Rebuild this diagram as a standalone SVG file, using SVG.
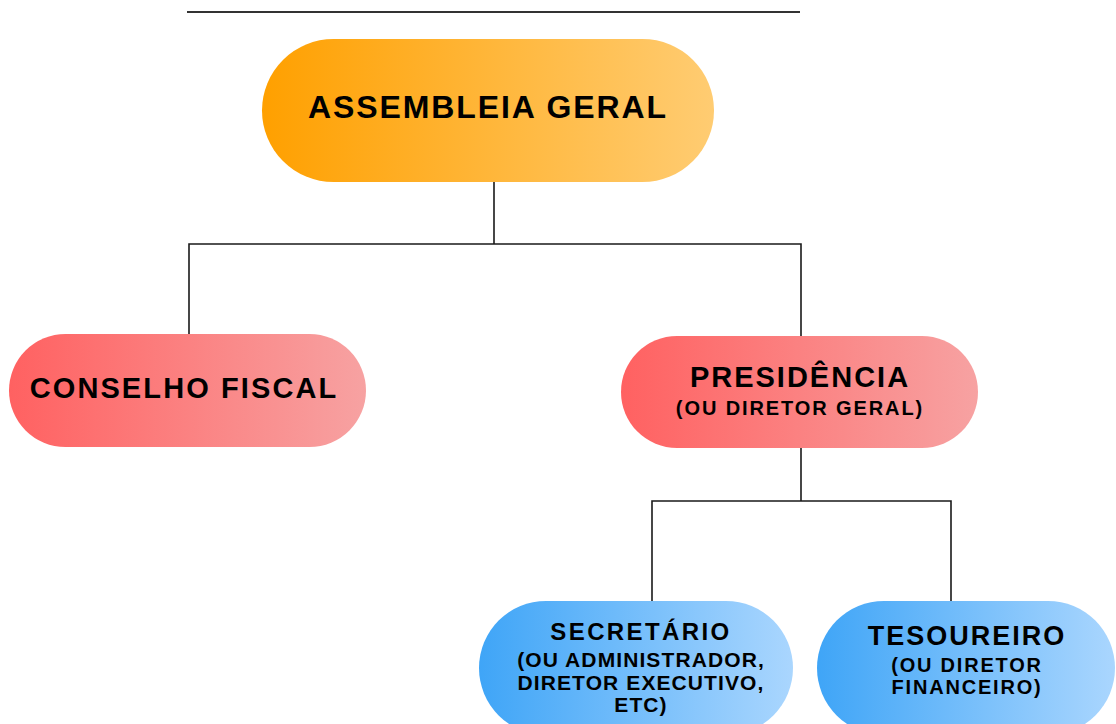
<svg xmlns="http://www.w3.org/2000/svg" width="1116" height="724" viewBox="0 0 1116 724">
<defs>
<linearGradient id="gOrange" x1="0" y1="0" x2="1" y2="0"><stop offset="0" stop-color="#FFA000"/><stop offset="1" stop-color="#FFCC72"/></linearGradient>
<linearGradient id="gRed" x1="0" y1="0" x2="1" y2="0"><stop offset="0" stop-color="#FF6161"/><stop offset="1" stop-color="#F7A2A2"/></linearGradient>
<linearGradient id="gBlue" x1="0" y1="0" x2="1" y2="0"><stop offset="0" stop-color="#3FA5F7"/><stop offset="1" stop-color="#AAD6FE"/></linearGradient>
<style>
text{font-family:"Liberation Sans",Arial,sans-serif;font-weight:bold;fill:#000;text-anchor:middle}
.conn{fill:none;stroke:#1a1a1a;stroke-width:1.6}
</style>
</defs>
<line x1="187" y1="12" x2="800" y2="12" stroke="#333" stroke-width="2"/>
<g id="connectors">
<path class="conn" d="M494 182V244M189 334V244H801V336"/>
<path class="conn" d="M801 448V501M652 602V501H951V602"/>
</g>
<g id="assembleia">
<rect x="262" y="39" width="452" height="143" rx="71.5" fill="url(#gOrange)"/>
<text x="488" y="118" font-size="32" letter-spacing="1.9">ASSEMBLEIA GERAL</text>
</g>
<g id="conselho">
<rect x="9" y="334" width="357" height="113" rx="56.5" fill="url(#gRed)"/>
<text x="184" y="398" font-size="29" letter-spacing="2.1">CONSELHO FISCAL</text>
</g>
<g id="presidencia">
<rect x="621" y="336" width="357" height="112" rx="56" fill="url(#gRed)"/>
<text x="800" y="387" font-size="29" letter-spacing="2">PRESIDÊNCIA</text>
<text x="800" y="415" font-size="20" letter-spacing="1.9">(OU DIRETOR GERAL)</text>
</g>
<g id="secretario">
<rect x="479" y="601" width="314" height="134" rx="67" fill="url(#gBlue)"/>
<text x="641" y="640" font-size="24" letter-spacing="2.4">SECRETÁRIO</text>
<text x="641" y="667" font-size="21" letter-spacing="1.1">(OU ADMINISTRADOR,</text>
<text x="641" y="689.5" font-size="21" letter-spacing="1.1">DIRETOR EXECUTIVO,</text>
<text x="641" y="712" font-size="21" letter-spacing="1.1">ETC)</text>
</g>
<g id="tesoureiro">
<rect x="817" y="601" width="298" height="134" rx="67" fill="url(#gBlue)"/>
<text x="967" y="645" font-size="27" letter-spacing="2">TESOUREIRO</text>
<text x="967" y="672" font-size="20" letter-spacing="1.8">(OU DIRETOR</text>
<text x="967" y="694" font-size="20" letter-spacing="1.8">FINANCEIRO)</text>
</g>
</svg>
